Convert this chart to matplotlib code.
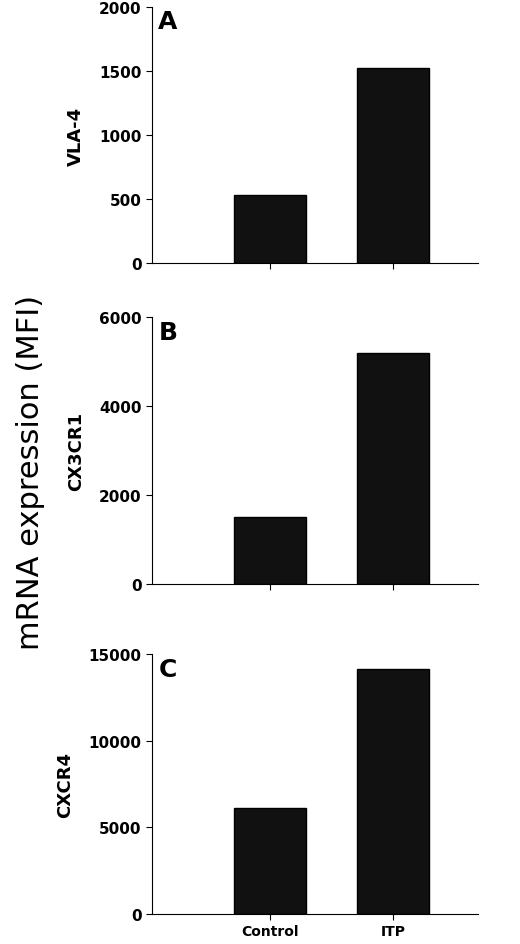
import matplotlib.pyplot as plt

categories = ['Control', 'ITP']
vla4 = [535, 1525]
cx3cr1 = [1500, 5200]
cxcr4 = [6100, 14150]

panels = [
    ('A', 'VLA-4', vla4, [0, 500, 1000, 1500, 2000], 2000, (0.292, 0.7206, 0.627, 0.271)),
    ('B', 'CX3CR1', cx3cr1, [0, 2000, 4000, 6000], 6000, (0.292, 0.381, 0.627, 0.2825)),
    ('C', 'CXCR4', cxcr4, [0, 5000, 10000, 15000], 15000, (0.292, 0.0317, 0.627, 0.275)),
]

fig = plt.figure(figsize=(5.2, 9.45), dpi=100)
pos = [0, 1]
for i, (letter, name, vals, ticks, top, rect) in enumerate(panels):
    ax = fig.add_axes(rect)
    ax.bar(pos, vals, width=0.59, color='#111111', edgecolor='black')
    ax.set_xlim(-0.96, 1.69)
    ax.set_ylim(0, top)
    ax.set_yticks(ticks)
    ax.set_xticks(pos)
    if i == 2:
        ax.set_xticklabels(categories, fontweight='bold', fontsize=10)
    else:
        ax.set_xticklabels([])
    for t in ax.get_yticklabels():
        t.set_fontweight('bold')
        t.set_fontsize(11)
    ax.spines['top'].set_visible(False)
    ax.spines['right'].set_visible(False)
    ax.tick_params(direction='out', length=4)
    ax.set_ylabel(name, fontweight='bold', fontsize=13, labelpad=10)
    ax.text(0.02, 0.99, letter, transform=ax.transAxes, fontsize=18,
            fontweight='bold', va='top', ha='left')

fig.text(0.058, 0.5, 'mRNA expression (MFI)', rotation=90, fontsize=22,
         va='center', ha='center')
fig.savefig('out.png', dpi=100)
